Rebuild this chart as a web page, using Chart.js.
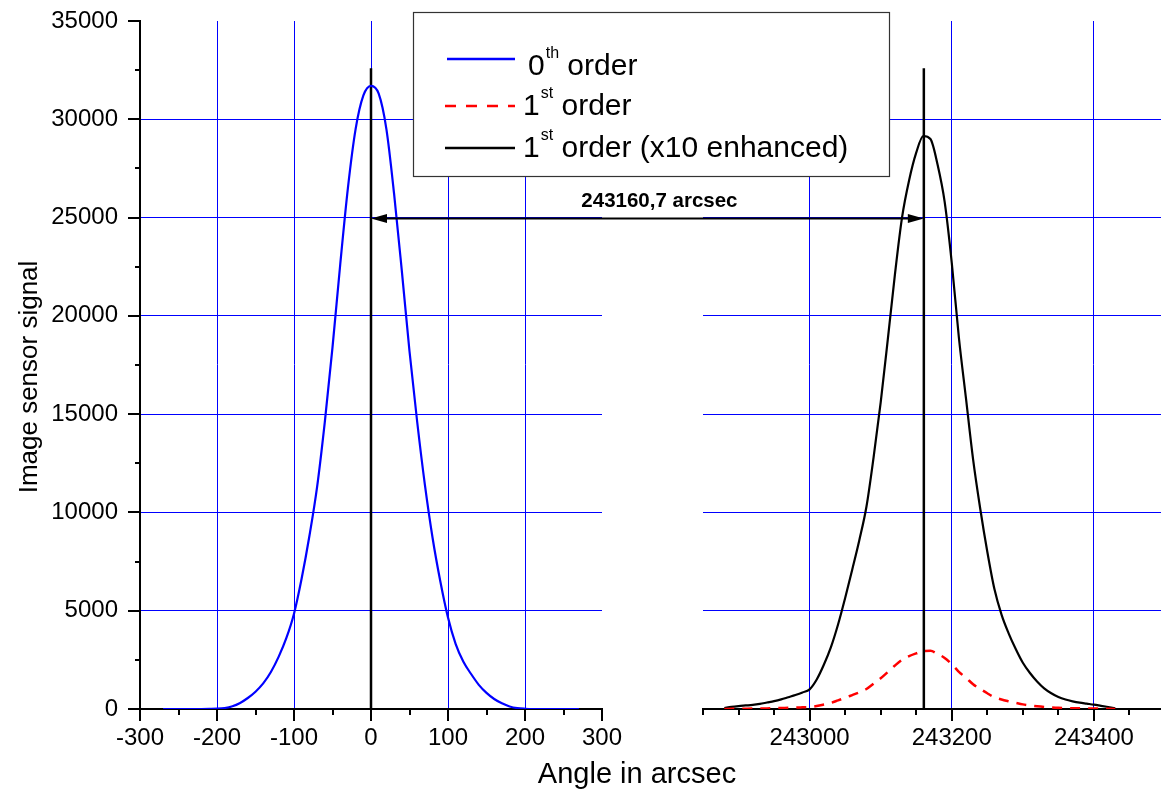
<!DOCTYPE html>
<html>
<head>
<meta charset="utf-8">
<script src="https://cdn.jsdelivr.net/npm/chart.js@4.4.0/dist/chart.umd.min.js"></script>
<style>
  html, body { margin: 0; padding: 0; background: #fff; overflow: hidden; }
  #wrap { position: relative; width: 1161px; height: 791px; overflow: hidden; }
  #wrap canvas { position: absolute; left: 0; top: 0; }
</style>
</head>
<body>
<div id="wrap">
  <canvas id="left" width="1161" height="791"></canvas>
  <canvas id="right" width="1180" height="791"></canvas>
</div>
<script>
// 0th order (blue), angle in arcsec
const angle0 = [-270, -260, -250, -240, -230, -220, -210, -200, -190, -180, -170, -160, -150, -140,
  -130, -120, -110, -100, -90, -80, -70, -60, -50, -40, -30, -20, -10, 0, 10, 20, 30, 40, 50, 60,
  70, 80, 90, 100, 110, 120, 130, 140, 150, 160, 170, 180, 190, 200, 210, 220, 230, 240, 250, 260, 270];
const signal0 = [0, 0, 0, 0, 0, 0, 5, 15, 50, 140, 310, 560, 880, 1300,
  1880, 2650, 3600, 4850, 6650, 8800, 11300, 14600, 18400, 22600, 26500, 29500, 31200, 31700, 31300, 29500, 26200, 22300, 18200, 14600,
  11400, 8700, 6500, 4650, 3300, 2400, 1780, 1230, 820, 510, 290, 130, 45, 12, 0, 0, 0, 0, 0, 0, 0];

// 1st order, angle in arcsec
const angle1 = [242880, 242890, 242900, 242910, 242920, 242930, 242940, 242950, 242960, 242970,
  242980, 242990, 243000, 243010, 243020, 243030, 243040, 243050, 243060, 243070,
  243080, 243090, 243100, 243110, 243120, 243130, 243140, 243150, 243160, 243170,
  243180, 243190, 243200, 243210, 243220, 243230, 243240, 243250, 243260, 243270,
  243280, 243290, 243300, 243310, 243320, 243330, 243340, 243350, 243360, 243370,
  243380, 243390, 243400, 243410, 243420, 243430];
const signal1 = [0, 10, 15, 18, 20, 25, 30, 40, 50, 60,
  70, 85, 100, 150, 225, 310, 440, 570, 710, 850,
  1020, 1290, 1560, 1880, 2210, 2500, 2690, 2830, 2950, 2960,
  2800, 2600, 2280, 1890, 1590, 1260, 1020, 800, 600, 480,
  390, 310, 235, 185, 140, 105, 80, 60, 48, 39,
  32, 27, 23, 17, 10, 4];
const signal1x10 = [50, 110, 150, 180, 210, 260, 330, 400, 490, 600,
  710, 840, 1000, 1500, 2250, 3150, 4300, 5650, 7100, 8600,
  10300, 12800, 15600, 18800, 22100, 25000, 26900, 28300, 29150, 29000,
  27700, 25800, 22700, 18900, 15800, 12700, 10200, 8000, 6100, 4800,
  3850, 3050, 2350, 1830, 1400, 1050, 800, 610, 480, 390,
  320, 270, 220, 160, 100, 40];

// peak markers and separation
const zeroPos = 0;
const firstOrderPos = 243160.7;
const markerTop = 32600;
const arrowLevel = 25000;
const separationLabel = '243160,7 arcsec';

// tick labels
const leftTicks = [-300, -200, -100, 0, 100, 200, 300];
const rightTicks = [243000, 243200, 243400];
const yTicks = [0, 5000, 10000, 15000, 20000, 25000, 30000, 35000];

const FONT = '"Liberation Sans", Arial, Helvetica, sans-serif';
Chart.defaults.font.family = FONT;
Chart.defaults.color = '#000';

const GRID = '#0000ff';
const NONE = 'rgba(0,0,0,0)';

// gridlines only on labelled ticks, not on the plot edges
function gridColor(labels, min, max) {
  return c => {
    const v = c.tick ? c.tick.value : null;
    return labels.includes(v) && v !== min && v !== max ? GRID : NONE;
  };
}

function pts(xs, ys) {
  return xs.map((x, i) => ({ x: x, y: ys[i] }));
}

// nudge layout padding until the plot area sits where it should
function fitArea(chart, target) {
  for (let i = 0; i < 3; i++) {
    const a = chart.chartArea;
    const p = chart.options.layout.padding;
    chart.options.layout.padding = {
      top: p.top + (target.top - a.top),
      left: p.left + (target.left - a.left),
      right: p.right + (a.right - target.right),
      bottom: p.bottom
    };
    chart.update();
  }
}

// black tick marks, long on labelled ticks, short on minor ones
const tickMarks = {
  id: 'tickMarks',
  afterDraw(chart) {
    const ctx = chart.ctx;
    const a = chart.chartArea;
    const xs = chart.scales.x;
    const ys = chart.scales.y;
    ctx.save();
    ctx.strokeStyle = '#000';
    ctx.lineWidth = 2;
    ctx.beginPath();
    xs.ticks.forEach(t => {
      const px = Math.round(xs.getPixelForValue(t.value));
      ctx.moveTo(px, a.bottom);
      ctx.lineTo(px, a.bottom + (t.label ? 12 : 6));
    });
    if (chart.options.scales.y.ticks.display !== false) {
      ys.ticks.forEach(t => {
        const py = Math.round(ys.getPixelForValue(t.value));
        ctx.moveTo(a.left, py);
        ctx.lineTo(a.left - (t.label ? 12 : 5), py);
      });
    }
    ctx.stroke();
    ctx.restore();
  }
};

const yTitle = {
  id: 'yTitle',
  afterDraw(chart) {
    const ctx = chart.ctx;
    ctx.save();
    ctx.translate(30, 377);
    ctx.rotate(-Math.PI / 2);
    ctx.font = '26px ' + FONT;
    ctx.fillStyle = '#000';
    ctx.textAlign = 'center';
    ctx.textBaseline = 'middle';
    ctx.fillText('Image sensor signal', 0, 0);
    ctx.restore();
  }
};

const leftChart = new Chart(document.getElementById('left'), {
  type: 'line',
  data: {
    datasets: [
      { data: pts(angle0, signal0), borderColor: '#0000ff', borderWidth: 2.2, pointRadius: 0,
        cubicInterpolationMode: 'monotone', order: 1 },
      { data: [{ x: zeroPos, y: 0 }, { x: zeroPos, y: markerTop }], borderColor: '#000',
        borderWidth: 2.5, pointRadius: 0, order: 2 }
    ]
  },
  options: {
    responsive: false,
    animation: false,
    events: [],
    layout: { padding: { top: 21, right: 559, bottom: 0, left: 0 } },
    plugins: { legend: { display: false }, tooltip: { enabled: false } },
    scales: {
      x: {
        type: 'linear', min: -300, max: 300,
        ticks: { stepSize: 50, autoSkip: false, maxRotation: 0, padding: 15, font: { size: 24 },
          callback: v => leftTicks.includes(v) ? String(v) : '' },
        grid: { drawTicks: false, color: gridColor(leftTicks, -300, 300), lineWidth: 1 },
        border: { color: '#000', width: 2 },
        afterFit: s => { s.height = 82; s.paddingLeft = 0; s.paddingRight = 0; }
      },
      y: {
        min: 0, max: 35000,
        ticks: { stepSize: 2500, autoSkip: false, padding: 22, font: { size: 24 },
          callback: v => yTicks.includes(v) ? String(v) : '' },
        grid: { drawTicks: false, color: gridColor(yTicks, 0, 35000), lineWidth: 1 },
        border: { color: '#000', width: 2 },
        afterFit: s => { s.width = 140; s.paddingTop = 0; s.paddingBottom = 0; }
      }
    }
  },
  plugins: [tickMarks, yTitle]
});
fitArea(leftChart, { left: 140, top: 21, right: 602 });

// arrow between the two peaks, axis title and legend box
const overlay = {
  id: 'overlay',
  afterDraw(chart) {
    const ctx = chart.ctx;
    const x1 = leftChart.scales.x.getPixelForValue(zeroPos);
    const x2 = chart.scales.x.getPixelForValue(firstOrderPos);
    const y = Math.round(chart.scales.y.getPixelForValue(arrowLevel)) + 0.5;
    ctx.save();
    ctx.strokeStyle = '#000';
    ctx.fillStyle = '#000';
    ctx.lineWidth = 2.2;
    ctx.beginPath();
    ctx.moveTo(x1 + 10, y);
    ctx.lineTo(x2 - 10, y);
    ctx.stroke();
    ctx.beginPath();
    ctx.moveTo(x1, y); ctx.lineTo(x1 + 16, y - 4.5); ctx.lineTo(x1 + 16, y + 4.5); ctx.closePath();
    ctx.moveTo(x2, y); ctx.lineTo(x2 - 16, y - 4.5); ctx.lineTo(x2 - 16, y + 4.5); ctx.closePath();
    ctx.fill();

    ctx.font = 'bold 20.5px ' + FONT;
    ctx.textAlign = 'center';
    ctx.textBaseline = 'alphabetic';
    ctx.fillText(separationLabel, (x1 + x2) / 2 + 12, y - 12);

    // x axis title
    ctx.font = '29px ' + FONT;
    ctx.fillText('Angle in arcsec', 637, 783);

    // legend
    const bx = 413.5, by = 12.5, bw = 476, bh = 164;
    ctx.fillStyle = '#fff';
    ctx.fillRect(bx, by, bw, bh);
    ctx.strokeStyle = '#333';
    ctx.lineWidth = 1.2;
    ctx.strokeRect(bx, by, bw, bh);

    const rows = [
      { color: '#0000ff', dash: [], lineY: 59, x0: 447, main: '0', sup: 'th', rest: ' order', tx: 528, base: 75 },
      { color: '#ff0000', dash: [11, 10], lineY: 106, x0: 445, main: '1', sup: 'st', rest: ' order', tx: 523, base: 115 },
      { color: '#000', dash: [], lineY: 148, x0: 445, main: '1', sup: 'st', rest: ' order (x10 enhanced)', tx: 523, base: 157 }
    ];
    rows.forEach(r => {
      ctx.strokeStyle = r.color;
      ctx.lineWidth = 2.5;
      ctx.setLineDash(r.dash);
      ctx.beginPath();
      ctx.moveTo(r.x0, r.lineY);
      ctx.lineTo(515, r.lineY);
      ctx.stroke();
      ctx.setLineDash([]);
      ctx.fillStyle = '#000';
      ctx.textAlign = 'left';
      ctx.font = '30px ' + FONT;
      let x = r.tx;
      ctx.fillText(r.main, x, r.base);
      x += ctx.measureText(r.main).width + 1;
      ctx.font = '16px ' + FONT;
      ctx.fillText(r.sup, x, r.base - 17);
      x += ctx.measureText(r.sup).width;
      ctx.font = '30px ' + FONT;
      ctx.fillText(r.rest, x, r.base);
    });
    ctx.restore();
  }
};

const rightChart = new Chart(document.getElementById('right'), {
  type: 'line',
  data: {
    datasets: [
      { data: pts(angle1, signal1), borderColor: '#ff0000', borderWidth: 2.5, borderDash: [10, 8],
        pointRadius: 0, cubicInterpolationMode: 'monotone', order: 1 },
      { data: pts(angle1, signal1x10), borderColor: '#000', borderWidth: 2.2, pointRadius: 0,
        cubicInterpolationMode: 'monotone', order: 2 },
      { data: [{ x: firstOrderPos, y: 0 }, { x: firstOrderPos, y: markerTop }], borderColor: '#000',
        borderWidth: 2.5, pointRadius: 0, order: 0 }
    ]
  },
  options: {
    responsive: false,
    animation: false,
    events: [],
    layout: { padding: { top: 21, right: 14, bottom: 0, left: 703 } },
    plugins: { legend: { display: false }, tooltip: { enabled: false } },
    scales: {
      x: {
        type: 'linear', min: 242850, max: 243500,
        ticks: { stepSize: 50, autoSkip: false, maxRotation: 0, padding: 15, font: { size: 24 },
          callback: v => rightTicks.includes(v) ? String(v) : '' },
        grid: { drawTicks: false, color: gridColor(rightTicks, 242850, 243500), lineWidth: 1 },
        border: { color: '#000', width: 2 },
        afterFit: s => { s.height = 82; }
      },
      y: {
        min: 0, max: 35000,
        ticks: { display: false, stepSize: 2500 },
        grid: { drawTicks: false, color: gridColor(yTicks, 0, 35000), lineWidth: 1 },
        border: { display: false },
        afterFit: s => { s.width = 0; }
      }
    }
  },
  plugins: [tickMarks, overlay]
});
fitArea(rightChart, { left: 703, top: 21, right: 1166 });
</script>
</body>
</html>
